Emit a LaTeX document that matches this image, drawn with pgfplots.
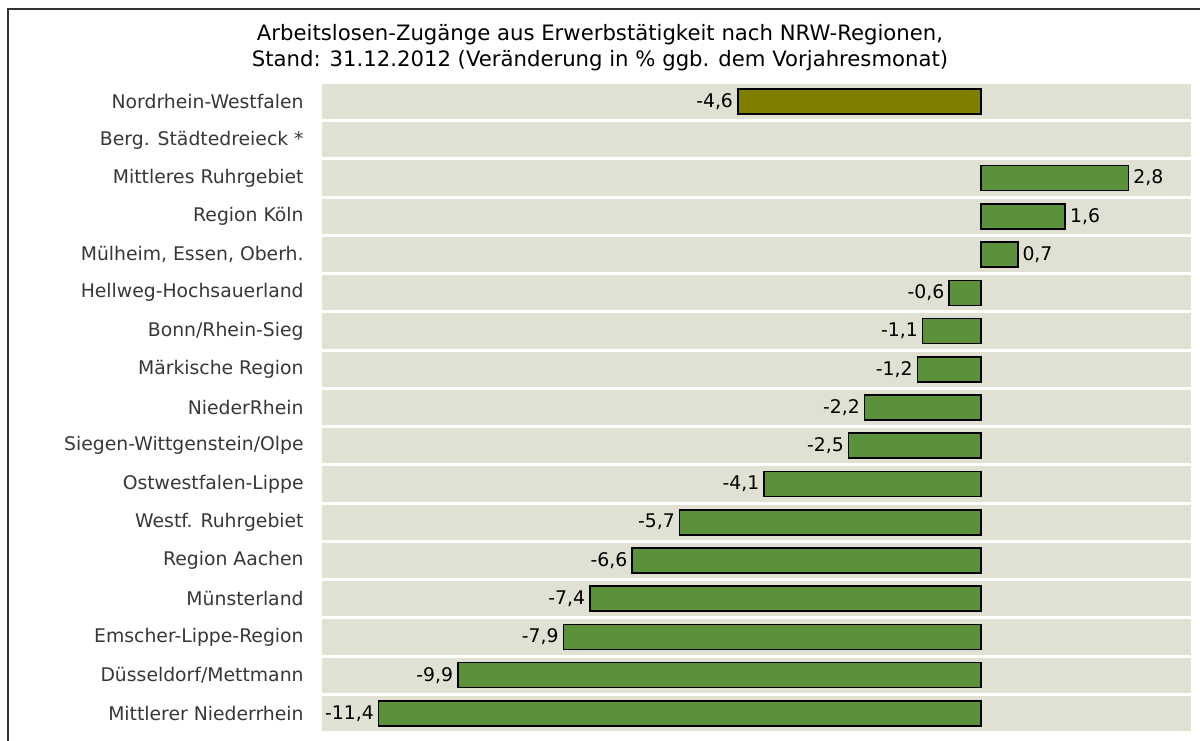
\documentclass[border=0pt]{standalone}
\usepackage{pgfplots}
\pgfplotsset{compat=1.18}
\usepackage{fontspec}
\setmainfont{DejaVu Sans}

\definecolor{stripe}{RGB}{224,225,211}
\definecolor{bargreen}{RGB}{91,145,59}
\definecolor{barolive}{RGB}{128,128,0}
\definecolor{labgray}{RGB}{55,55,55}

\begin{document}
\begin{tikzpicture}
\begin{axis}[
    at={(161pt,-365.5pt)}, anchor=south west,
    scale only axis, width=434.5pt, height=323.5pt,
    xbar, bar width=12.5pt, bar shift=0pt,
    xmin=-12.47, xmax=3.98,
    ymin=-0.46, ymax=16.46, y dir=reverse,
    axis line style={draw=none},
    axis background/.style={fill=stripe},
    xtick=\empty,
    ytick={0,...,16},
    yticklabels={Nordrhein-Westfalen, Berg. Städtedreieck *, Mittleres Ruhrgebiet,
        Region Köln, {Mülheim, Essen, Oberh.}, Hellweg-Hochsauerland, Bonn/Rhein-Sieg,
        Märkische Region, NiederRhein, Siegen-Wittgenstein/Olpe, Ostwestfalen-Lippe,
        Westf. Ruhrgebiet, Region Aachen, Münsterland, Emscher-Lippe-Region,
        Düsseldorf/Mettmann, Mittlerer Niederrhein},
    yticklabel style={font=\fontsize{9.4}{11}\selectfont, text=labgray, inner xsep=0pt, xshift=-9pt},
    minor ytick={0.5,1.5,...,15.5},
    yminorgrids=true, ymajorgrids=false,
    minor grid style={white, line width=1.5pt},
    tick style={draw=none},
    major tick length=0pt, minor tick length=0pt,
    point meta=x,
    nodes near coords={\pgfmathprintnumber[use comma,fixed,fixed zerofill,precision=1,assume math mode=true]{\pgfplotspointmeta}},
    every node near coord/.append style={font=\fontsize{9.4}{11}\selectfont, text=black, inner xsep=2pt},
    clip=false,
]
\addplot[draw=black, line width=0.8pt, fill=barolive] coordinates {(-4.6,0)};
\addplot[draw=black, line width=0.8pt, fill=bargreen] coordinates {
    (2.8,2) (1.6,3) (0.7,4) (-0.6,5) (-1.1,6) (-1.2,7) (-2.2,8) (-2.5,9)
    (-4.1,10) (-5.7,11) (-6.6,12) (-7.4,13) (-7.9,14) (-9.9,15) (-11.4,16)
};
\end{axis}
\node[anchor=north, inner sep=0pt, align=center, font=\fontsize{10.6}{13}\selectfont] at (300pt,-11.8pt)
    {Arbeitslosen-Zugänge aus Erwerbstätigkeit nach NRW-Regionen,\\
     Stand: 31.12.2012 (Veränderung in \% ggb. dem Vorjahresmonat)};
\draw[line width=1pt, black!80] (4pt,-372pt) -- (4pt,-4.5pt) -- (602pt,-4.5pt);
\pgfresetboundingbox
\useasboundingbox (0pt,0pt) rectangle (600pt,-370pt);
\end{tikzpicture}
\end{document}
